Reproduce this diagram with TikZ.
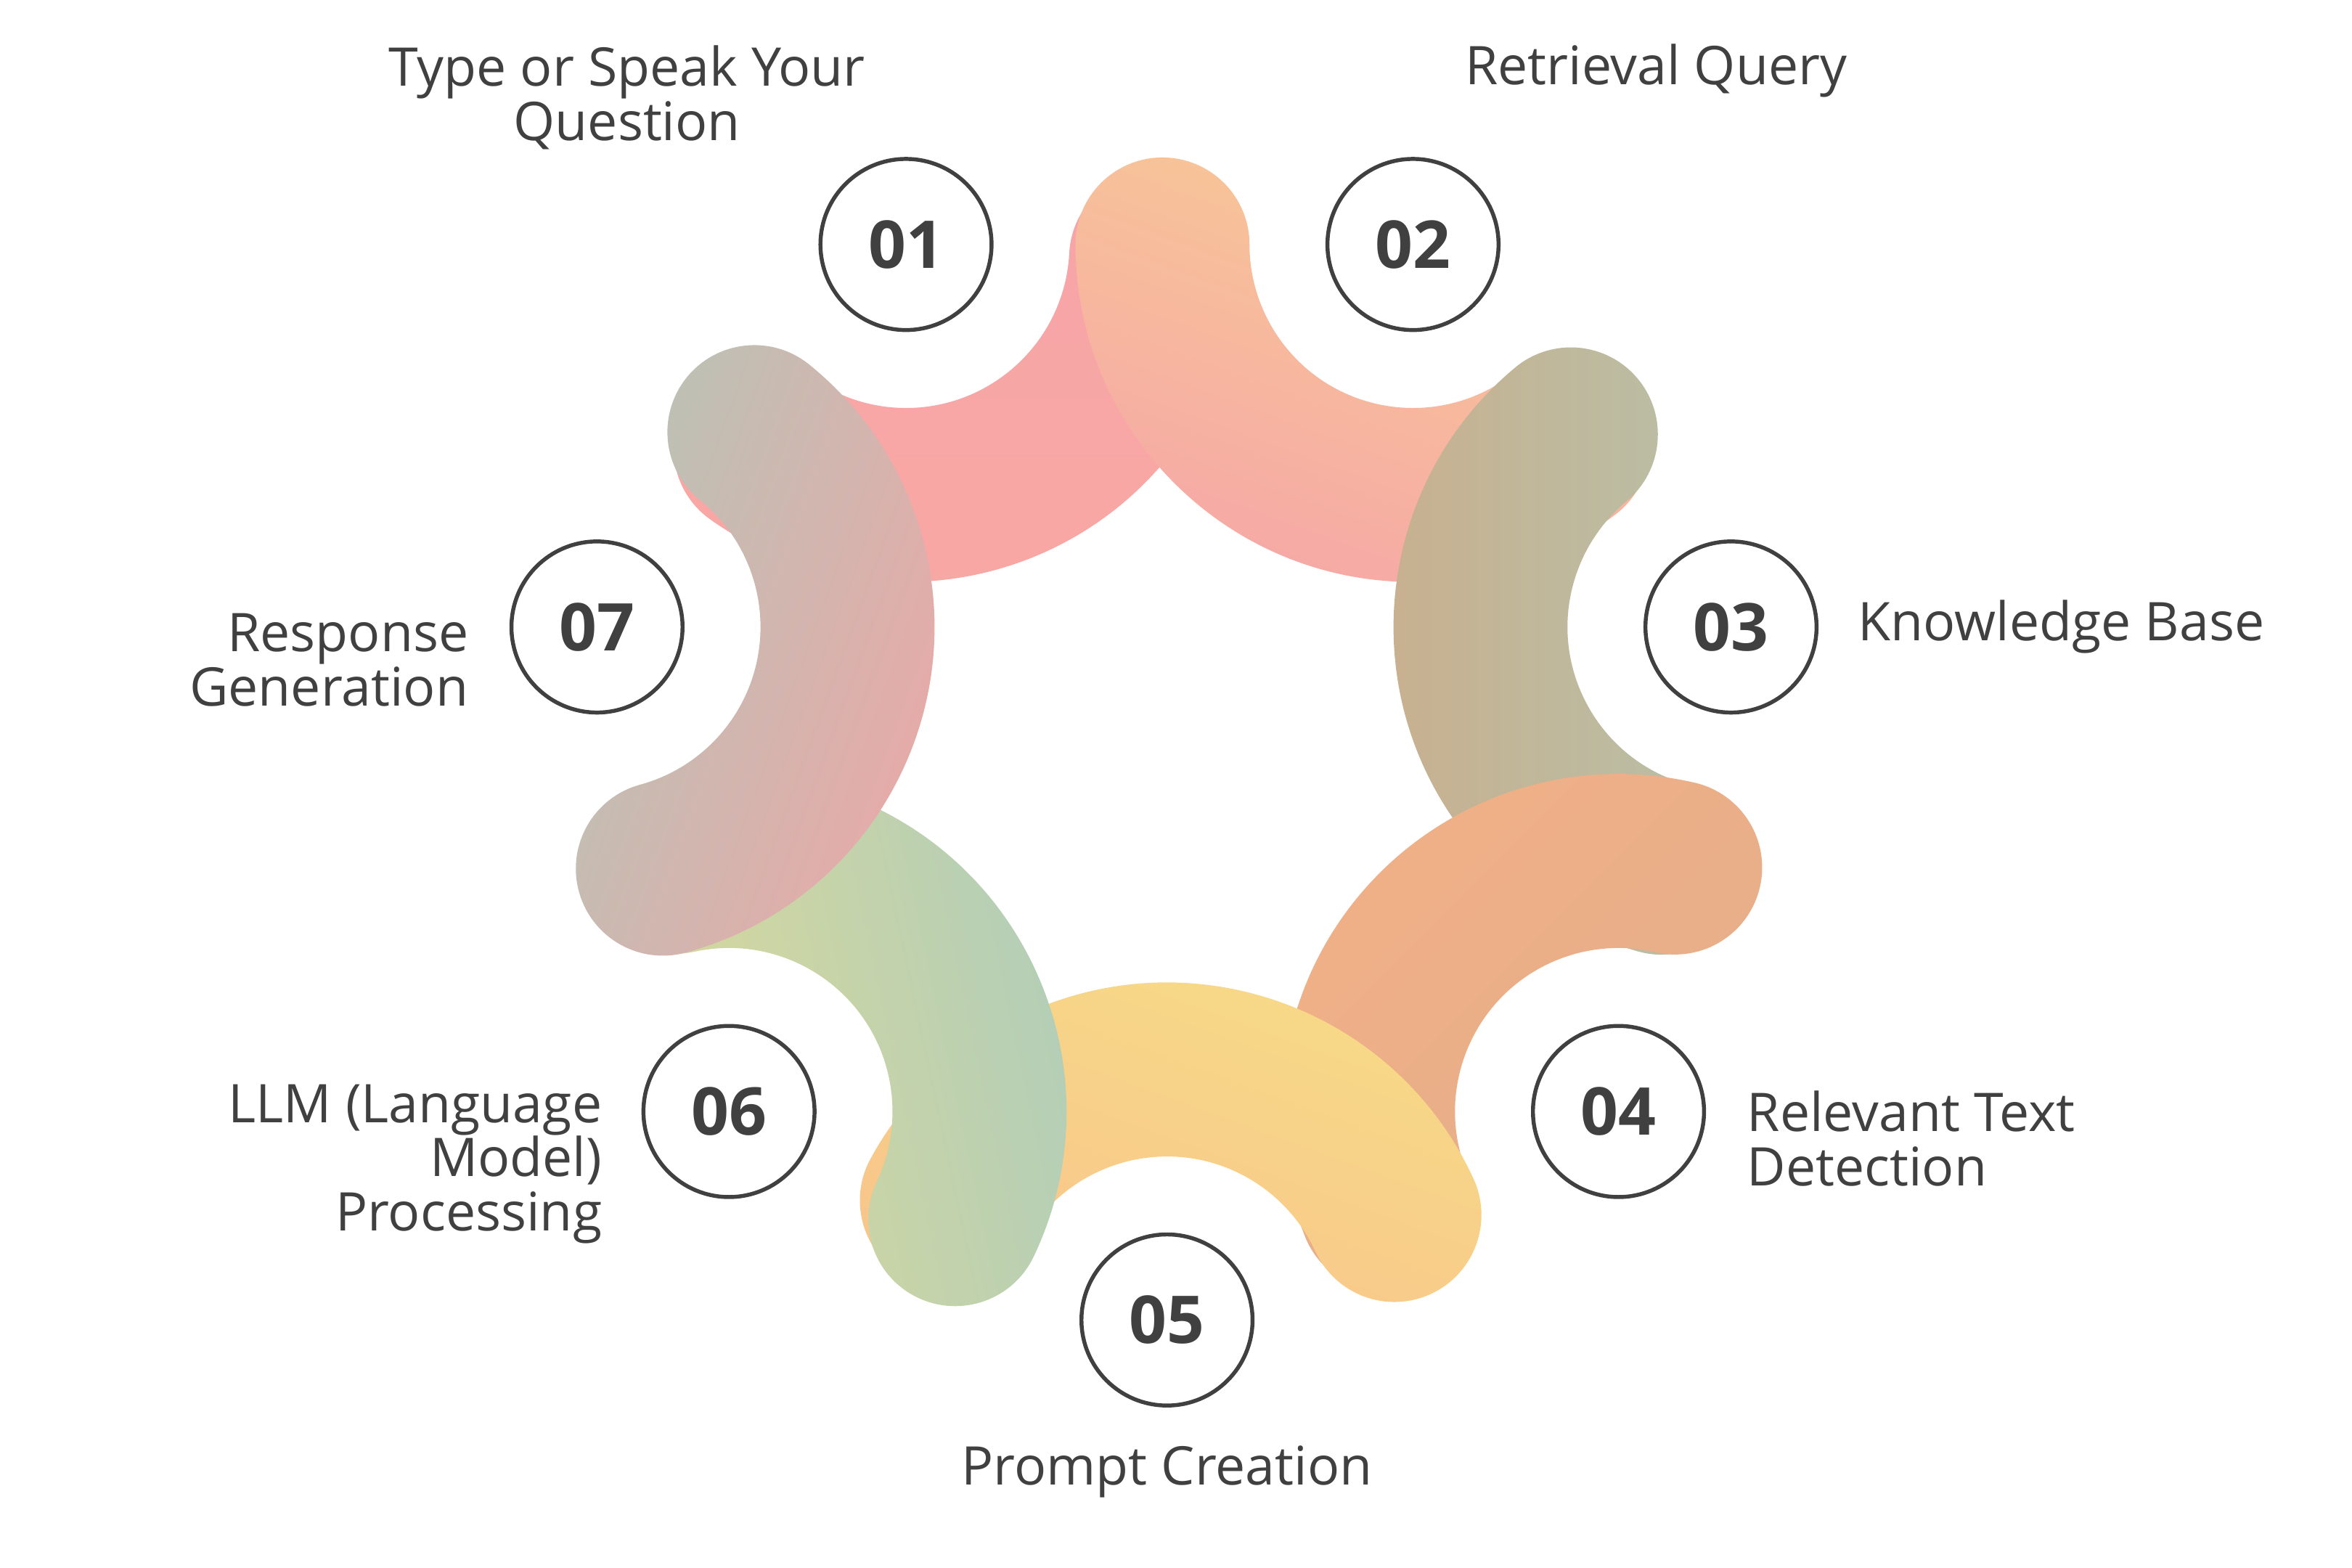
\documentclass[tikz,border=0pt]{standalone}
\usepackage{fontspec}
\setmainfont{Open Sans}
\usetikzlibrary{positioning}

\definecolor{ink}{HTML}{404040}
\definecolor{pinkA}{HTML}{F7A4A8}
\definecolor{pinkB}{HTML}{F8A8A4}
\definecolor{peachA}{HTML}{F8CA95}
\definecolor{peachB}{HTML}{F6A8A6}
\definecolor{sageA}{HTML}{C9AF8D}
\definecolor{sageB}{HTML}{B6C1AA}
\definecolor{apricotA}{HTML}{F2B087}
\definecolor{apricotB}{HTML}{E2AE8A}
\definecolor{honeyA}{HTML}{F7DC87}
\definecolor{honeyB}{HTML}{F8C48B}
\definecolor{mintA}{HTML}{AFCDBA}
\definecolor{mintB}{HTML}{DFDA97}
\definecolor{roseA}{HTML}{EBA8A7}
\definecolor{roseB}{HTML}{B8C3B6}

\begin{document}
\begin{tikzpicture}[
        x=0.01cm, y=0.01cm,
        stepnum/.style={draw=ink, circle, line width=0.75pt, minimum size=1.14cm, inner sep=0pt, text=ink, font=\fontsize{12.5}{14}\selectfont\bfseries},
        label_text/.style={text=ink, inner sep=0pt, font=\fontsize{10.1}{10.25}\selectfont}
    ]
    \useasboundingbox (0,0) rectangle (1568,1045);

    \node[stepnum] (n1) at (604, 882) {01};
    \node[stepnum] (n2) at (942, 882) {02};
    \node[stepnum] (n3) at (1154, 627) {03};
    \node[stepnum] (n4) at (1079, 304) {04};
    \node[stepnum] (n5) at (778, 165) {05};
    \node[stepnum] (n6) at (486, 304) {06};
    \node[stepnum] (n7) at (398, 627) {07};

    % thick bands, one per step, each laid over the one before
    \foreach \n/\a/\b/\ca/\cb/\s in {n1/234.5/357/pinkA/pinkB/0, n2/180/306.7/peachA/peachB/-20,
        n3/129.74/253.9/sageA/sageB/90, n4/76.93/201.8/apricotA/apricotB/45,
        n5/24.79/151.5/honeyA/honeyB/-20, n6/-25.45/102.2/mintA/mintB/-78,
        n7/285.24/411.07/roseA/roseB/-110}{
        \pgfmathsetmacro\bb{\b+180}
        \pgfmathsetmacro\aa{\a+180}
        \pgfmathsetmacro\ab{\a+360}
        \shade[top color=\ca, bottom color=\cb, shading angle=\s]
            (\n.center) ++(\a:225) arc[start angle=\a, end angle=\b, radius=225]
            arc[start angle=\b, end angle=\bb, radius=58]
            arc[start angle=\b, end angle=\a, radius=109]
            arc[start angle=\aa, end angle=\ab, radius=58] -- cycle;
    }

    \node[label_text, align=center] (t1) at (418, 980) {Type or Speak Your\\Question};
    \node[label_text] (t2) at (1104, 998) {Retrieval Query};
    \node[label_text, anchor=west] (t3) at (1238, 627) {Knowledge Base};
    \node[label_text, anchor=west, align=left] (t4) at (1164, 286) {Relevant Text\\Detection};
    \node[label_text] (t5) at (778, 64) {Prompt Creation};
    \node[label_text, anchor=east, align=right] (t6) at (402, 269) {LLM (Language\\Model)\\Processing};
    \node[label_text, anchor=east, align=right] (t7) at (313, 605) {Response\\Generation};

\end{tikzpicture}
\end{document}
